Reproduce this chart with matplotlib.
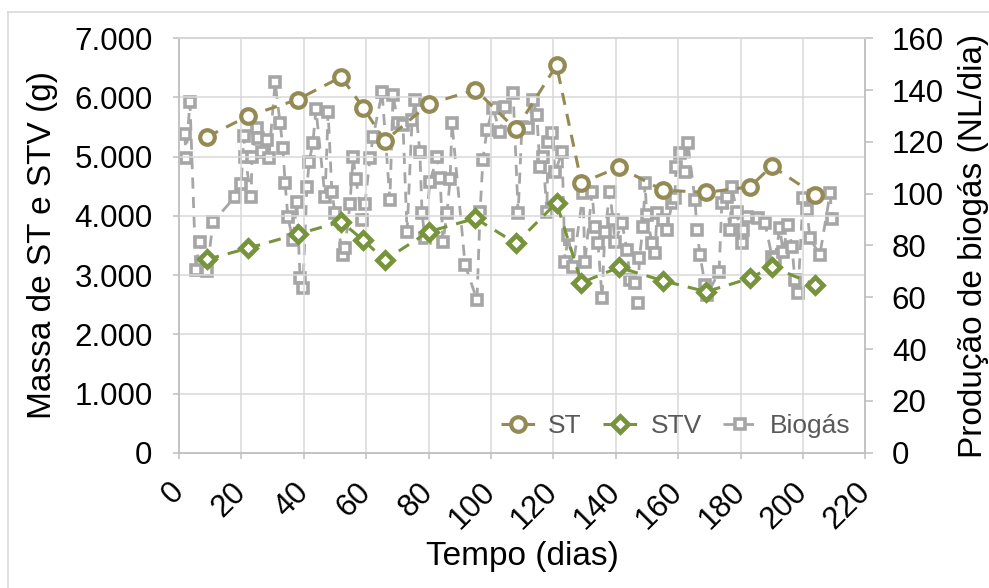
import numpy as np
import matplotlib
matplotlib.use("Agg")
import matplotlib.pyplot as plt
from matplotlib.ticker import FuncFormatter, MultipleLocator
from matplotlib.lines import Line2D

plt.rcParams['font.family'] = ['Liberation Sans', 'DejaVu Sans']

# solidos totais e volateis (g) por dia
dias_st = [9, 22, 38, 52, 59, 66, 80, 95, 108, 121, 129, 141, 155, 169, 183, 190, 204]
st  = [5334, 5683, 5965, 6346, 5830, 5266, 5885, 6133, 5459, 6543,
       4558, 4823, 4435, 4396, 4491, 4840, 4351]
stv = [3266, 3452, 3693, 3901, 3592, 3255, 3732, 3958, 3536, 4221,
       2872, 3132, 2906, 2720, 2946, 3142, 2833]

# producao diaria de biogas (NL/dia)
dias_bio = [1.9, 2.2, 3.5, 5.4, 6.7, 9.0, 10.9, 17.9, 19.9, 20.8,
            21.2, 23.1, 23.4, 25.0, 25.3, 26.6, 28.2, 28.8, 30.8, 32.4,
            33.3, 34.0, 34.9, 36.5, 37.8, 38.8, 39.7, 41.0, 41.7, 42.9,
            43.9, 46.8, 47.8, 49.0, 50.0, 52.6, 53.2, 54.8, 55.8, 56.7,
            58.7, 59.6, 61.2, 62.2, 65.1, 67.6, 68.6, 70.2, 71.8, 73.1,
            74.7, 75.6, 77.2, 77.9, 78.8, 80.4, 82.7, 83.7, 84.6, 85.9,
            86.9, 87.5, 91.7, 95.5, 96.5, 97.4, 98.7, 100.6, 102.9, 104.5,
            107.1, 108.7, 109.9, 111.9, 113.5, 114.7, 115.7, 116.7, 117.9, 118.3,
            119.6, 120.5, 122.8, 123.7, 124.7, 126.3, 129.5, 130.1, 132.4, 133.3,
            134.3, 135.6, 136.5, 138.1, 139.1, 139.7, 142.0, 143.6, 144.6, 146.2,
            147.0, 147.6, 148.7, 149.4, 149.9, 151.6, 152.6, 153.2, 155.1, 156.4,
            158.0, 158.9, 159.3, 160.6, 162.2, 163.1, 165.4, 166.0, 167.0, 168.6,
            169.2, 173.1, 174.0, 175.6, 176.6, 177.2, 178.8, 180.4, 180.8, 182.1,
            185.6, 187.8, 190.1, 191.0, 192.6, 193.6, 195.2, 196.5, 197.4, 198.4,
            200.0, 201.3, 202.2, 205.4, 208.7, 209.3]
biogas = [123.0, 113.7, 135.3, 70.5, 81.3, 70.2, 89.1, 98.7, 103.7, 122.2,
          114.1, 98.7, 114.1, 125.3, 121.4, 116.0, 120.7, 113.7, 143.0, 127.2,
          117.6, 104.1, 91.0, 82.1, 96.8, 67.5, 63.6, 102.5, 112.2, 119.5,
          132.6, 98.7, 131.5, 100.6, 92.5, 76.3, 79.0, 96.0, 114.1, 105.6,
          89.8, 96.0, 113.7, 121.8, 139.2, 97.5, 138.0, 127.2, 126.4, 85.2,
          128.4, 136.1, 116.0, 92.5, 82.9, 104.5, 114.1, 106.0, 81.3, 92.5,
          105.6, 127.2, 72.5, 59.0, 92.9, 113.0, 124.5, 133.0, 123.7, 133.4,
          138.8, 92.5, 125.7, 125.3, 136.1, 130.3, 110.3, 114.1, 92.9, 119.9,
          123.4, 108.3, 116.0, 73.6, 84.0, 71.7, 100.2, 73.6, 100.6, 87.1,
          81.0, 59.8, 85.2, 100.6, 89.8, 81.3, 88.7, 78.3, 66.7, 65.5,
          57.8, 75.2, 87.1, 104.1, 91.7, 81.0, 77.1, 92.5, 89.8, 86.0,
          96.4, 98.3, 110.3, 115.7, 108.3, 119.5, 97.5, 86.0, 76.3, 64.8,
          60.9, 69.8, 96.4, 98.7, 86.0, 102.5, 92.9, 81.0, 86.0, 91.0,
          90.6, 88.7, 75.6, 75.2, 86.7, 77.5, 87.9, 79.4, 66.7, 61.7,
          98.3, 93.7, 82.9, 76.3, 100.2, 90.2]

cor_st = '#948A54'
cor_stv = '#77933C'
cor_bio = '#A6A6A6'
cinza = '#D9D9D9'
tracejado = (0, (4, 3))

fig = plt.figure(figsize=(9.89, 5.88), dpi=100)
ax = fig.add_axes([0.181, 0.230, 0.694, 0.705])
ax2 = ax.twinx()

# biogas no eixo secundario, atras das series de solidos
ax2.plot(dias_bio, biogas, linestyle=tracejado, linewidth=2.0, color=cor_bio,
         marker='s', markersize=7, markerfacecolor='white', markeredgecolor=cor_bio,
         markeredgewidth=2.6, label='Biogás')
ax.set_zorder(ax2.get_zorder() + 1)
ax.patch.set_visible(False)

ax.plot(dias_st, st, linestyle=tracejado, linewidth=2.2, color=cor_st,
        marker='o', markersize=10.5, markerfacecolor='white', markeredgecolor=cor_st,
        markeredgewidth=3.0, label='ST')
ax.plot(dias_st, stv, linestyle=tracejado, linewidth=2.2, color=cor_stv,
        marker='D', markersize=8.5, markerfacecolor='white', markeredgecolor=cor_stv,
        markeredgewidth=3.4, label='STV')

ax.set_xlim(0, 220)
ax.set_ylim(0, 7000)
ax2.set_ylim(0, 160)
ax.xaxis.set_major_locator(MultipleLocator(20))
ax.yaxis.set_major_locator(MultipleLocator(1000))
ax2.yaxis.set_major_locator(MultipleLocator(20))
ax.yaxis.set_major_formatter(FuncFormatter(lambda v, p: f"{int(v):,}".replace(",", ".")))

ax.grid(True, color=cinza, linewidth=1.1)
ax.set_axisbelow(True)
for a in (ax, ax2):
    for s in a.spines.values():
        s.set_color('#BFBFBF')
        s.set_linewidth(1.1)
ax.spines['top'].set_color(cinza)

ax.tick_params(axis='y', length=4, width=1.1, color='#BFBFBF', pad=15, labelsize=22.5)
ax.tick_params(axis='x', length=4, width=1.1, color='#BFBFBF', pad=21, labelsize=22.5)
ax2.tick_params(axis='y', length=6, width=1.1, color='#BFBFBF', pad=13, labelsize=22.5)
for lbl in ax.get_xticklabels():
    lbl.set_rotation(45)
    lbl.set_ha('right')
    lbl.set_va('center')
    lbl.set_rotation_mode('anchor')

ax.set_xlabel('Tempo (dias)', fontsize=24, labelpad=4)
ax.set_ylabel('Massa de ST e STV (g)', fontsize=24, labelpad=12)
ax2.set_ylabel('Produção de biogás (NL/dia)', fontsize=24, labelpad=10)

h1, l1 = ax.get_legend_handles_labels()
h2, l2 = ax2.get_legend_handles_labels()
leg = ax.legend(h1 + h2, l1 + l2, loc='lower right', ncol=3, frameon=False,
                fontsize=19, handlelength=1.3, columnspacing=0.8, handletextpad=0.5,
                borderaxespad=0.15, labelcolor='#595959')

# moldura da area do grafico
fig.add_artist(Line2D([8 / 989, 8 / 989], [0, 1 - 12 / 588], color=cinza, linewidth=1.2))
fig.add_artist(Line2D([8 / 989, 1], [1 - 12 / 588, 1 - 12 / 588], color=cinza, linewidth=1.2))

fig.savefig('out.png', dpi=100)
